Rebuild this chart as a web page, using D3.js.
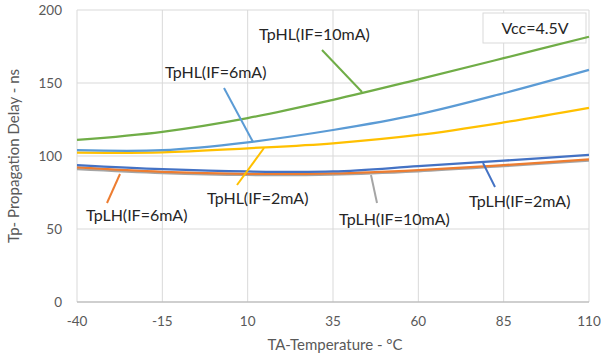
<!DOCTYPE html>
<html>
<head>
<meta charset="utf-8">
<script src="https://cdn.jsdelivr.net/npm/d3@7"></script>
<style>
  body { margin: 0; background: #fff; }
  text { font-family: Lato, "Open Sans", sans-serif; }
</style>
</head>
<body>
<div id="chart"></div>
<script>
const temps = [-40, -15, 10, 35, 60, 85, 110];
const yTicks = [0, 50, 100, 150, 200];

const tphl10 = [111, 116.6, 126, 138.5, 152.5, 167, 181.7];
const tphl6 = [104, 104, 109.4, 117.8, 128.5, 143, 159];
const tphl2 = [102.3, 102.5, 105.3, 108.7, 114.4, 123, 133];
const tplh2 = [93.8, 91, 89.4, 89.4, 93, 96.8, 100.7];
const tplh6 = [92.2, 89.2, 87.8, 88.1, 90.4, 93.8, 97.7];
const tplh10 = [91, 88.3, 87, 87.3, 89.5, 93, 96.8];

const seriesNames = ['TpLH(IF=10mA)', 'TpLH(IF=6mA)', 'TpLH(IF=2mA)', 'TpHL(IF=2mA)', 'TpHL(IF=6mA)', 'TpHL(IF=10mA)'];
const seriesValues = [tplh10, tplh6, tplh2, tphl2, tphl6, tphl10];
const colors = ['#a5a5a5', '#ed7d31', '#4472c4', '#ffc000', '#5b9bd5', '#70ad47'];

const w = 601;
const h = 359;

const x = d3.scaleLinear().domain([-40, 110]).range([77, 589]);
const y = d3.scaleLinear().domain([0, 200]).range([302, 10]);

const svg = d3.select('#chart')
    .append('svg')
    .attr('width', w)
    .attr('height', h);

// grid
svg.append('g')
    .selectAll('line.v')
    .data(temps)
    .enter()
    .append('line')
    .attr('x1', d => x(d)).attr('x2', d => x(d))
    .attr('y1', y(200)).attr('y2', y(0))
    .attr('stroke', '#d9d9d9').attr('stroke-width', 1);

svg.append('g')
    .selectAll('line.h')
    .data(yTicks)
    .enter()
    .append('line')
    .attr('x1', x(-40)).attr('x2', x(110))
    .attr('y1', d => y(d)).attr('y2', d => y(d))
    .attr('stroke', d => d === 0 ? '#bfbfbf' : '#d9d9d9').attr('stroke-width', d => d === 0 ? 1.5 : 1);

// tick labels
svg.append('g')
    .selectAll('text')
    .data(temps)
    .enter()
    .append('text')
    .attr('x', d => x(d))
    .attr('y', 326)
    .attr('text-anchor', 'middle')
    .attr('font-size', 13.5)
    .attr('fill', '#595959')
    .text(d => d);

svg.append('g')
    .selectAll('text')
    .data(yTicks)
    .enter()
    .append('text')
    .attr('x', 62)
    .attr('y', d => y(d) + 5)
    .attr('text-anchor', 'end')
    .attr('font-size', 13.5)
    .attr('fill', '#595959')
    .text(d => d);

// axis titles
svg.append('text')
    .attr('x', 335).attr('y', 350)
    .attr('text-anchor', 'middle')
    .attr('font-size', 15)
    .attr('fill', '#595959')
    .text('TA-Temperature - °C');

svg.append('text')
    .attr('transform', 'translate(19,156) rotate(-90)')
    .attr('text-anchor', 'middle')
    .attr('font-size', 15)
    .attr('fill', '#595959')
    .text('Tp- Propagation Delay - ns');

// Vcc box
svg.append('rect')
    .attr('x', 483).attr('y', 13)
    .attr('width', 103).attr('height', 30)
    .attr('fill', '#fff')
    .attr('stroke', '#d9d9d9');
svg.append('text')
    .attr('x', 535).attr('y', 34)
    .attr('text-anchor', 'middle')
    .attr('font-size', 16)
    .attr('fill', '#262626')
    .text('Vcc=4.5V');

// lines
const line = d3.line()
    .x((d, i) => x(temps[i]))
    .y(d => y(d))
    .curve(d3.curveCatmullRom);

svg.append('g')
    .selectAll('path')
    .data(seriesValues)
    .enter()
    .append('path')
    .attr('d', d => line(d))
    .attr('fill', 'none')
    .attr('stroke', (d, i) => colors[i])
    .attr('stroke-width', 2.25);

// callouts
const labels = [
    {text: 'TpHL(IF=10mA)', tx: 259, ty: 40, lx1: 322, ly1: 50, lx2: 362, ly2: 92, c: '#70ad47'},
    {text: 'TpHL(IF=6mA)', tx: 165, ty: 78, lx1: 224, ly1: 88, lx2: 253, ly2: 142, c: '#5b9bd5'},
    {text: 'TpHL(IF=2mA)', tx: 207, ty: 204, lx1: 237, ly1: 185, lx2: 264, ly2: 148, c: '#ffc000'},
    {text: 'TpLH(IF=6mA)', tx: 86, ty: 221, lx1: 107, ly1: 203, lx2: 120, ly2: 174, c: '#ed7d31'},
    {text: 'TpLH(IF=10mA)', tx: 339, ty: 225, lx1: 377, ly1: 203, lx2: 371, ly2: 175, c: '#a5a5a5'},
    {text: 'TpLH(IF=2mA)', tx: 469, ty: 207, lx1: 495, ly1: 187, lx2: 483, ly2: 163, c: '#4472c4'}
];

svg.append('g')
    .selectAll('line')
    .data(labels)
    .enter()
    .append('line')
    .attr('x1', d => d.lx1).attr('y1', d => d.ly1)
    .attr('x2', d => d.lx2).attr('y2', d => d.ly2)
    .attr('stroke', d => d.c).attr('stroke-width', 2);

svg.append('g')
    .selectAll('text')
    .data(labels)
    .enter()
    .append('text')
    .attr('x', d => d.tx).attr('y', d => d.ty)
    .attr('font-size', 16)
    .attr('fill', '#262626')
    .text(d => d.text);
</script>
</body>
</html>
